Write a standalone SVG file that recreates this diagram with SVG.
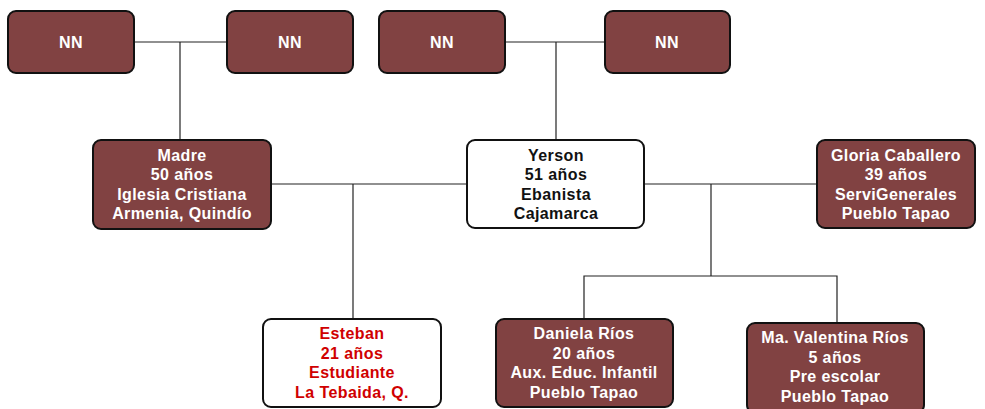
<svg xmlns="http://www.w3.org/2000/svg" width="985" height="409" viewBox="0 0 985 409">
<style>
.b{fill:#814242;stroke:#111;stroke-width:2}
.w{fill:#fff;stroke:#111;stroke-width:2}
text{font-family:"Liberation Sans",Arial,sans-serif;font-weight:bold;font-size:16px;letter-spacing:0.4px;text-anchor:middle}
.tw{fill:#fff}
.tk{fill:#111}
.tr{fill:#d00000}
.c line,.c polyline{stroke:#222;stroke-width:1.2;fill:none}
</style>
<rect width="985" height="409" fill="#fff"/>
<g class="c" id="connectors">
<line x1="134" y1="42" x2="227" y2="42"/>
<line x1="180" y1="42" x2="180" y2="140"/>
<line x1="505" y1="42" x2="605" y2="42"/>
<line x1="556" y1="42" x2="556" y2="140"/>
<line x1="271" y1="184" x2="467" y2="184"/>
<line x1="353" y1="184" x2="353" y2="319"/>
<line x1="644" y1="184" x2="817" y2="184"/>
<line x1="711" y1="184" x2="711" y2="276"/>
<polyline points="584,319 584,276 837,276 837,323"/>
</g>
<g id="nn1"><rect class="b" x="8" y="11" width="126" height="62" rx="8"/><text class="tw" x="71" y="48">NN</text></g>
<g id="nn2"><rect class="b" x="227" y="11" width="126" height="62" rx="8"/><text class="tw" x="290" y="48">NN</text></g>
<g id="nn3"><rect class="b" x="379" y="11" width="126" height="62" rx="8"/><text class="tw" x="442" y="48">NN</text></g>
<g id="nn4"><rect class="b" x="605" y="11" width="125" height="62" rx="8"/><text class="tw" x="667" y="48">NN</text></g>
<g id="madre"><rect class="b" x="93" y="140" width="178" height="89" rx="8"/>
<text class="tw" x="182" y="160.5">Madre</text><text class="tw" x="182" y="180">50 años</text><text class="tw" x="182" y="199.5">Iglesia Cristiana</text><text class="tw" x="182" y="219">Armenia, Quindío</text></g>
<g id="yerson"><rect class="w" x="467" y="140" width="177" height="88" rx="8"/>
<text class="tk" x="556" y="160.5">Yerson</text><text class="tk" x="556" y="180">51 años</text><text class="tk" x="556" y="199.5">Ebanista</text><text class="tk" x="556" y="219">Cajamarca</text></g>
<g id="gloria"><rect class="b" x="817" y="140" width="158" height="88" rx="8"/>
<text class="tw" x="896" y="160.5">Gloria Caballero</text><text class="tw" x="896" y="180">39 años</text><text class="tw" x="896" y="199.5">ServiGenerales</text><text class="tw" x="896" y="219">Pueblo Tapao</text></g>
<g id="esteban"><rect class="w" x="263" y="319" width="178" height="88" rx="8"/>
<text class="tr" x="352" y="339">Esteban</text><text class="tr" x="352" y="358.5">21 años</text><text class="tr" x="352" y="378">Estudiante</text><text class="tr" x="352" y="397.5">La Tebaida, Q.</text></g>
<g id="daniela"><rect class="b" x="496" y="319" width="177" height="88" rx="8"/>
<text class="tw" x="584" y="339">Daniela Ríos</text><text class="tw" x="584" y="358.5">20 años</text><text class="tw" x="584" y="378">Aux. Educ. Infantil</text><text class="tw" x="584" y="397.5">Pueblo Tapao</text></g>
<g id="valentina"><rect class="b" x="747" y="323" width="177" height="90" rx="8"/>
<text class="tw" x="835" y="343">Ma. Valentina Ríos</text><text class="tw" x="835" y="362.5">5 años</text><text class="tw" x="835" y="382">Pre escolar</text><text class="tw" x="835" y="401.5">Pueblo Tapao</text></g>
</svg>
